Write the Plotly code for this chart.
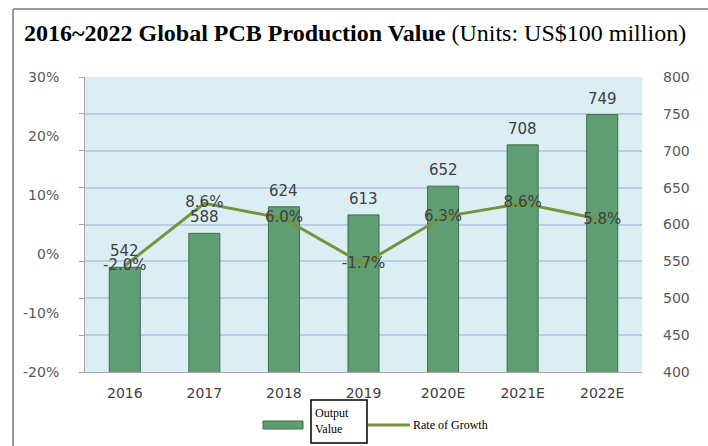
import plotly.graph_objects as go

years = ["2016", "2017", "2018", "2019", "2020E", "2021E", "2022E"]
output_value = [542, 588, 624, 613, 652, 708, 749]
growth_rate = [-2.0, 8.6, 6.0, -1.7, 6.3, 8.6, 5.8]
growth_labels = ["-2.0%", "8.6%", "6.0%", "-1.7%", "6.3%", "8.6%", "5.8%"]
left_ticks = [-20, -10, 0, 10, 20, 30]
left_tick_labels = ["-20%", "-10%", "0%", "10%", "20%", "30%"]
right_ticks = [400, 450, 500, 550, 600, 650, 700, 750, 800]

BAR = "#5f9e72"
LINE = "#77933c"
TXT = "#404040"
AX = "#595959"

fig = go.Figure()
fig.add_trace(go.Bar(
    x=years, y=output_value, yaxis="y",
    marker=dict(color=BAR, line=dict(color="#3f6e4d", width=1)),
    width=0.39, showlegend=False,
))
fig.add_trace(go.Scatter(
    x=years, y=growth_rate, yaxis="y2", mode="lines+text",
    line=dict(color=LINE, width=3),
    text=growth_labels, textposition="middle center",
    textfont=dict(family="DejaVu Sans", size=15, color=TXT),
    cliponaxis=False, showlegend=False,
))

L, R, T, B = 85, 66, 77, 74
W, H = 708, 446
pw, ph = W - L - R, H - T - B

def px(xp):
    return (xp - L) / pw

def py(yp):
    return (H - B - yp) / ph

fig.update_layout(
    width=W, height=H,
    margin=dict(l=L, r=R, t=T, b=B, autoexpand=False),
    paper_bgcolor="white", plot_bgcolor="#dbeef4",
    showlegend=False,
    xaxis=dict(
        type="category", range=[-0.5, len(years) - 0.5],
        showgrid=False, showline=True, linecolor="#a6a6a6",
        linewidth=1, ticks="", tickfont=dict(family="DejaVu Sans", size=14, color=TXT),
        ticklabelstandoff=8, automargin=False,
    ),
    yaxis=dict(
        side="right", range=[400, 800], tickvals=right_ticks,
        showgrid=True, gridcolor="#b9cde5", gridwidth=2,
        zeroline=False, showline=False, ticks="",
        tickfont=dict(family="DejaVu Sans", size=14, color=AX),
        ticklabelstandoff=20, automargin=False,
    ),
    yaxis2=dict(
        overlaying="y", side="left", range=[-20, 30], tickvals=left_ticks,
        ticktext=left_tick_labels, showgrid=False, zeroline=False,
        showline=True, linecolor="#a6a6a6", linewidth=1, ticks="",
        tickfont=dict(family="DejaVu Sans", size=14, color=AX),
        ticklabelstandoff=22, automargin=False,
        minor=dict(tick0=-20, dtick=6.25, ticks="outside", ticklen=5,
                   tickcolor="#a6a6a6", showgrid=False),
    ),
)

shapes = [
    dict(type="line", xref="paper", yref="paper", x0=px(13), x1=px(13),
         y0=py(9), y1=py(450), line=dict(color="#9a9a9a", width=2)),
    dict(type="line", xref="paper", yref="paper", x0=px(13), x1=px(712),
         y0=py(9), y1=py(9), line=dict(color="#9a9a9a", width=2)),
    dict(type="rect", xref="paper", yref="paper", x0=px(263), x1=px(303),
         y0=py(429), y1=py(421), fillcolor=BAR, line=dict(color="#3f6e4d", width=1)),
    dict(type="rect", xref="paper", yref="paper", x0=px(311), x1=px(367),
         y0=py(443), y1=py(400), fillcolor="white", line=dict(color="black", width=1.5)),
    dict(type="line", xref="paper", yref="paper", x0=px(368), x1=px(410),
         y0=py(425), y1=py(425), line=dict(color=LINE, width=3)),
]

annotations = [
    dict(xref="paper", yref="paper", x=px(22), y=py(33), xanchor="left", yanchor="middle",
         showarrow=False,
         text="<b>2016~2022 Global PCB Production Value</b> (Units: US$100 million)",
         font=dict(family="Liberation Serif", size=24, color="black")),
    dict(xref="paper", yref="paper", x=px(313), y=py(421), xanchor="left", yanchor="middle",
         showarrow=False, align="left", text="Output<br>Value",
         font=dict(family="Liberation Serif", size=12, color="black")),
    dict(xref="paper", yref="paper", x=px(411), y=py(425), xanchor="left", yanchor="middle",
         showarrow=False, text="Rate of Growth",
         font=dict(family="Liberation Serif", size=12, color="black")),
]
for i, v in enumerate(output_value):
    annotations.append(dict(
        x=i, y=v, xref="x", yref="y", yanchor="bottom", yshift=5,
        showarrow=False, text=str(v),
        font=dict(family="DejaVu Sans", size=15, color=TXT),
    ))

fig.update_layout(shapes=shapes, annotations=annotations)
fig.write_html("out.html", config={"displayModeBar": False},
               post_script="document.body.style.margin='0';")
